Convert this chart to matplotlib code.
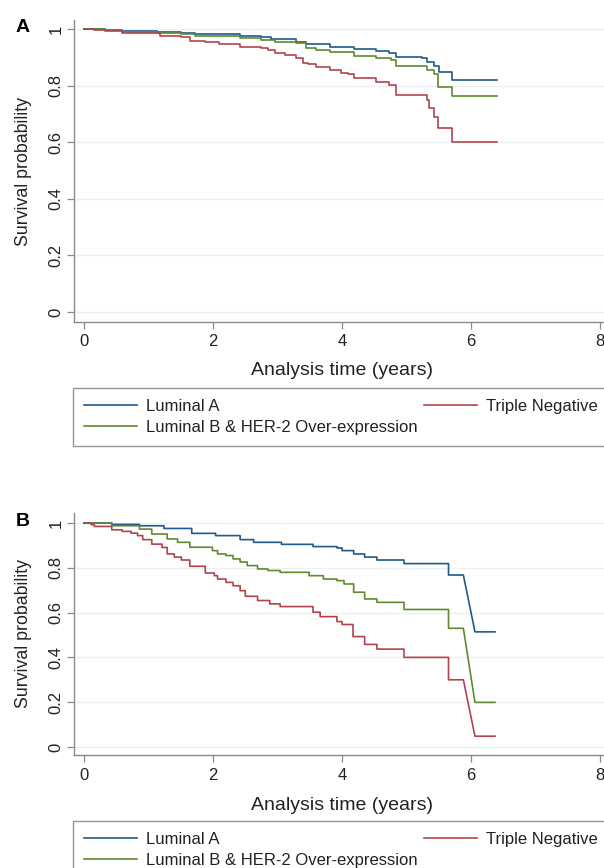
import matplotlib
matplotlib.use('Agg')
import matplotlib.pyplot as plt

plt.rcParams['font.family'] = ['Liberation Sans', 'DejaVu Sans']

# panel A - event times (years) and survival after each step
a_lum_a_t = [0, 0.32, 0.59, 1.13, 1.51, 1.72, 2.42, 2.74, 2.90, 3.28, 3.44, 3.82, 4.19, 4.52, 4.73, 4.84, 5.24, 5.32, 5.43, 5.51, 5.70, 6.40]
a_lum_a_s = [1, 0.996, 0.994, 0.991, 0.987, 0.982, 0.976, 0.973, 0.964, 0.955, 0.947, 0.938, 0.928, 0.922, 0.914, 0.902, 0.896, 0.882, 0.870, 0.847, 0.820, 0.820]
a_lum_b_t = [0, 0.32, 0.59, 1.13, 1.51, 1.72, 2.42, 2.74, 2.96, 3.28, 3.44, 3.60, 3.82, 4.19, 4.52, 4.76, 4.84, 5.32, 5.43, 5.48, 5.70, 6.40]
a_lum_b_s = [1, 0.996, 0.990, 0.987, 0.982, 0.976, 0.967, 0.961, 0.953, 0.949, 0.932, 0.926, 0.920, 0.906, 0.899, 0.891, 0.871, 0.855, 0.841, 0.794, 0.765, 0.765]
a_tn_t = [0, 0.16, 0.32, 0.59, 1.18, 1.51, 1.64, 1.88, 2.10, 2.42, 2.74, 2.85, 2.96, 3.12, 3.28, 3.39, 3.47, 3.60, 3.82, 3.98, 4.09, 4.19, 4.52, 4.73, 4.84, 5.32, 5.35, 5.43, 5.48, 5.70, 6.40]
a_tn_s = [1, 0.996, 0.994, 0.985, 0.976, 0.973, 0.959, 0.953, 0.946, 0.938, 0.934, 0.926, 0.914, 0.908, 0.896, 0.881, 0.875, 0.867, 0.855, 0.846, 0.840, 0.826, 0.814, 0.802, 0.767, 0.749, 0.720, 0.688, 0.649, 0.602, 0.602]

# panel B
b_lum_a_t = [0, 0.43, 0.86, 1.24, 1.67, 2.04, 2.42, 2.63, 3.06, 3.55, 3.92, 4.00, 4.18, 4.35, 4.54, 4.96, 5.65, 5.88, 6.37]
b_lum_a_s = [1, 0.994, 0.988, 0.976, 0.954, 0.944, 0.926, 0.914, 0.905, 0.895, 0.889, 0.877, 0.862, 0.848, 0.835, 0.819, 0.768, 0.514, 0.514]
b_lum_b_t = [0, 0.43, 0.86, 1.05, 1.29, 1.45, 1.64, 1.99, 2.07, 2.20, 2.31, 2.42, 2.53, 2.69, 2.85, 3.04, 3.49, 3.71, 3.92, 4.03, 4.18, 4.35, 4.54, 4.96, 5.65, 5.88, 6.37]
b_lum_b_s = [1, 0.988, 0.973, 0.951, 0.929, 0.914, 0.892, 0.877, 0.862, 0.855, 0.840, 0.826, 0.810, 0.795, 0.788, 0.780, 0.765, 0.750, 0.743, 0.728, 0.691, 0.661, 0.646, 0.614, 0.530, 0.199, 0.199]
b_tn_t = [0, 0.11, 0.16, 0.43, 0.59, 0.73, 0.83, 0.91, 1.05, 1.21, 1.29, 1.40, 1.51, 1.64, 1.88, 2.02, 2.07, 2.20, 2.31, 2.42, 2.50, 2.69, 2.88, 3.04, 3.55, 3.66, 3.92, 4.00, 4.17, 4.35, 4.54, 4.96, 5.65, 5.88, 6.37]
b_tn_s = [1, 0.993, 0.985, 0.970, 0.963, 0.955, 0.944, 0.926, 0.906, 0.891, 0.862, 0.848, 0.835, 0.807, 0.777, 0.765, 0.750, 0.735, 0.720, 0.698, 0.673, 0.654, 0.639, 0.627, 0.602, 0.582, 0.560, 0.547, 0.493, 0.458, 0.437, 0.400, 0.300, 0.048, 0.048]
b_last_drop_end = 6.06   # last drop in B is drawn sloping, ends here

labels = ['Luminal A', 'Luminal B & HER-2 Over-expression', 'Triple Negative']
colors = ['#1f5a8a', '#5f8a2e', '#b2434e']
yticks = [0, 0.2, 0.4, 0.6, 0.8, 1]
ytick_labels = ['0', '0.2', '0.4', '0.6', '0.8', '1']
xticks = [0, 2, 4, 6, 8]

W, H = 604, 868
fig = plt.figure(figsize=(W / 100, H / 100), dpi=100)


def km_path(t, s, slant_end=None):
    xs, ys = [t[0]], [s[0]]
    for i in range(1, len(t)):
        xs += [t[i], t[i]]
        ys += [s[i - 1], s[i]]
    if slant_end is not None:
        # last real drop is the one before the final (censor) point
        xs[-3] = slant_end
    return xs, ys


def panel(rect, ylim, curves, slant, letter, letter_y, leg_top, xlab_y):
    ax = fig.add_axes(rect)
    for (t, s), c, lab in zip(curves, colors, labels):
        xs, ys = km_path(t, s, slant)
        ax.plot(xs, ys, color=c, lw=1.2, label=lab)
    ax.set_xlim(-0.155, 8.06)
    ax.set_ylim(*ylim)
    ax.set_xticks(xticks)
    ax.set_yticks(yticks)
    ax.set_yticklabels(ytick_labels, rotation=90, va='center')
    for sp in ['top', 'right']:
        ax.spines[sp].set_visible(False)
    for sp in ['left', 'bottom']:
        ax.spines[sp].set_color('#8a8a8a')
        ax.spines[sp].set_linewidth(1.0)
    ax.tick_params(axis='both', colors='#8a8a8a', labelcolor='#222222',
                   length=5, width=0.9, labelsize=12)
    ax.tick_params(axis='x', pad=4)
    ax.tick_params(axis='y', pad=2.5)
    ax.grid(axis='y', color='#eaf1f4', lw=1.0)
    ax.set_axisbelow(True)
    ax.set_ylabel('Survival probability', fontsize=12.8, color='#222222')
    ax.set_xlabel('Analysis time (years)', fontsize=14, color='#222222')
    ax.yaxis.set_label_coords(-0.079, 0.5)
    ax.xaxis.set_label_coords(0.506, xlab_y)
    fig.text(23 / W, 1 - letter_y / H, letter, fontsize=14, fontweight='bold',
             ha='center', va='center')
    h, l = ax.get_legend_handles_labels()
    leg = fig.legend(h, l, ncol=2, loc='upper left',
                     bbox_to_anchor=(73 / W, 1 - leg_top / H, 536 / W, 0.0),
                     mode='expand', frameon=True, fancybox=False,
                     fontsize=12, handlelength=3.2, handletextpad=0.55,
                     labelspacing=0.38, borderpad=0.65, borderaxespad=0)
    leg.get_frame().set_edgecolor('#7a7a7a')
    leg.get_frame().set_linewidth(1.0)
    for txt in leg.get_texts():
        txt.set_color('#222222')
    return ax


panel([74 / W, (H - 322) / H, 530 / W, 302 / H], (-0.035, 1.032),
      [(a_lum_a_t, a_lum_a_s), (a_lum_b_t, a_lum_b_s), (a_tn_t, a_tn_s)],
      None, 'A', 27, 388, -0.133)
panel([74 / W, (H - 755) / H, 530 / W, 242 / H], (-0.036, 1.045),
      [(b_lum_a_t, b_lum_a_s), (b_lum_b_t, b_lum_b_s), (b_tn_t, b_tn_s)],
      b_last_drop_end, 'B', 522, 821, -0.174)

fig.savefig('out.png', dpi=100)
